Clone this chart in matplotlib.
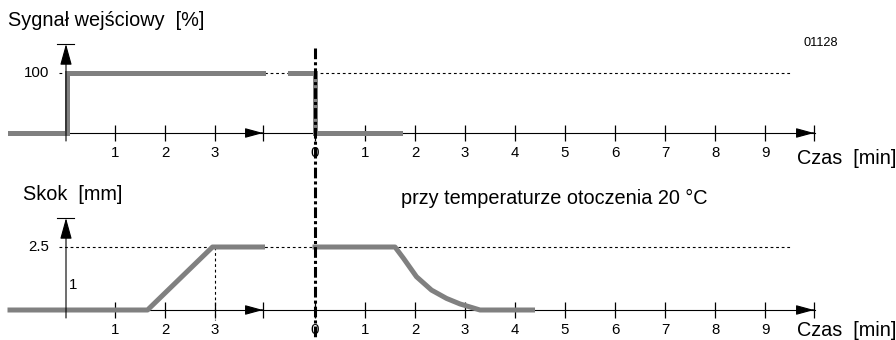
import matplotlib.pyplot as plt
from matplotlib.lines import Line2D
from matplotlib.transforms import blended_transform_factory

plt.rcParams["font.family"] = ["Liberation Sans", "DejaVu Sans"]

W, H = 896, 340

# time ticks [min], before and after the signal drop
ticks_before = [1, 2, 3]
ticks_after = [0, 1, 2, 3, 4, 5, 6, 7, 8, 9]

# input signal [%]
sig_before_t = [-1.1, 0.04, 0.04, 3.95]
sig_before_v = [0, 0, 100, 100]
sig_after_t = [-0.5, 0, 0, 1.7]
sig_after_v = [100, 100, 0, 0]

# stroke [mm]
stroke_before_t = [-1.1, 1.65, 2.95, 3.95]
stroke_before_v = [0, 0, 2.5, 2.5]
stroke_after_t = [0, 1.6, 1.77, 2.03, 2.33, 2.63, 2.9, 3.3, 4.35]
stroke_after_v = [2.5, 2.5, 2.05, 1.32, 0.79, 0.46, 0.24, 0.0, 0.0]

signal_max = 100
stroke_max = 2.5
stroke_mark = 1

GAP = 5      # drawing offset of the second time axis
X0, PX_MIN = 65, 50   # pixel of t=0 and pixels per minute

GRAY = "#808080"
LABEL_FS = 14.3
TICK_FS = 10.8


def fx(px):
    return px / W


def fy(py):
    return 1 - py / H


def make_axes(fig, p0, p1, base, scale):
    ax = fig.add_axes([0, fy(p1), 1, (p1 - p0) / H])
    ax.set_xlim(-X0 / PX_MIN, (W - X0) / PX_MIN)
    ax.set_ylim((base - p1) / scale, (base - p0) / scale)
    ax.axis("off")
    return ax


def arrow(ax, tip, start, head_len, head_w):
    ax.annotate("", xy=tip, xytext=start,
                arrowprops=dict(arrowstyle=f"-|>,head_length={head_len},head_width={head_w}",
                                color="k", lw=0.8, shrinkA=0, shrinkB=0))


def draw_frame(ax, scale, top, level, level_label, vmark=None):
    px = 1 / scale
    # time axis with two arrows
    ax.plot([0, 15], [0, 0], color="k", lw=0.8)
    for end in (3.96, 14.98):
        arrow(ax, (end, 0), (end - 0.02, 0), 1.1, 0.3)
        ax.plot([end], [0], marker="|", ms=11.5, mew=0.9, color="k")
    ax.plot(ticks_before, [0] * len(ticks_before), ls="none", marker="|",
            ms=11.5, mew=0.9, color="k")
    ax.plot([t + GAP for t in ticks_after], [0] * len(ticks_after), ls="none",
            marker="|", ms=11.5, mew=0.9, color="k")
    for t in ticks_before:
        ax.annotate(str(t), (t, 0), xytext=(0, -20), textcoords="offset pixels",
                    ha="center", va="center", fontsize=TICK_FS)
    for t in ticks_after:
        ax.annotate(str(t), (t + GAP, 0), xytext=(0, -20), textcoords="offset pixels",
                    ha="center", va="center", fontsize=TICK_FS)
    # value axis
    arrow(ax, (0.02, top), (0.02, -8 * px), 1.3, 0.36)
    ax.plot([-0.16, 0.18], [top, top], color="k", lw=0.8)
    # reference level
    ax.plot([-0.12, 14.5], [level, level], color="k", lw=0.8, ls=(0, (2.5, 2.5)))
    ax.annotate(level_label, (0, level), xytext=(-16, 0), textcoords="offset pixels",
                ha="right", va="center", fontsize=TICK_FS)
    if vmark is not None:
        ax.plot([vmark, vmark], [level, -10 * px], color="k", lw=0.8, ls=(0, (2.5, 2.5)))


fig = plt.figure(figsize=(W / 100, H / 100), dpi=100)

# top panel: input signal
ax1 = make_axes(fig, 0, 170, 133, 0.6)
draw_frame(ax1, 0.6, (133 - 44) / 0.6, signal_max, str(signal_max))
ax1.plot(sig_before_t, sig_before_v, color=GRAY, lw=3.6, solid_joinstyle="miter")
ax1.plot([t + GAP for t in sig_after_t], sig_after_v, color=GRAY, lw=3.6,
         solid_joinstyle="miter")

# bottom panel: stroke
ax2 = make_axes(fig, 170, 340, 310, 25.2)
draw_frame(ax2, 25.2, (310 - 218) / 25.2, stroke_max, str(stroke_max), vmark=3)
ax2.plot(stroke_before_t, stroke_before_v, color=GRAY, lw=3.6)
ax2.plot([t + GAP for t in stroke_after_t], stroke_after_v, color=GRAY, lw=3.6)
ax2.annotate(str(stroke_mark), (0, stroke_mark), xytext=(8, 0), textcoords="offset pixels",
             ha="center", va="center", fontsize=TICK_FS)

# dash-dot marker of the signal drop across both panels
trans = blended_transform_factory(ax1.transData, fig.transFigure)
fig.add_artist(Line2D([GAP, GAP], [fy(48), 0], transform=trans, color="k",
                      lw=2.2, dashes=(3.5, 1, 1, 1)))

# texts
fig.text(fx(8), fy(20), "Sygnał wejściowy  [%]", fontsize=LABEL_FS, va="center")
fig.text(fx(23), fy(195), "Skok  [mm]", fontsize=LABEL_FS, va="center")
fig.text(fx(401), fy(198), "przy temperaturze otoczenia 20 °C", fontsize=LABEL_FS, va="center")
fig.text(fx(797), fy(159), "Czas  [min]", fontsize=LABEL_FS, va="center")
fig.text(fx(797), fy(330), "Czas  [min]", fontsize=LABEL_FS, va="center")
fig.text(fx(803), fy(43), "01128", fontsize=9.2, va="center")

fig.savefig("out.png", dpi=100)
